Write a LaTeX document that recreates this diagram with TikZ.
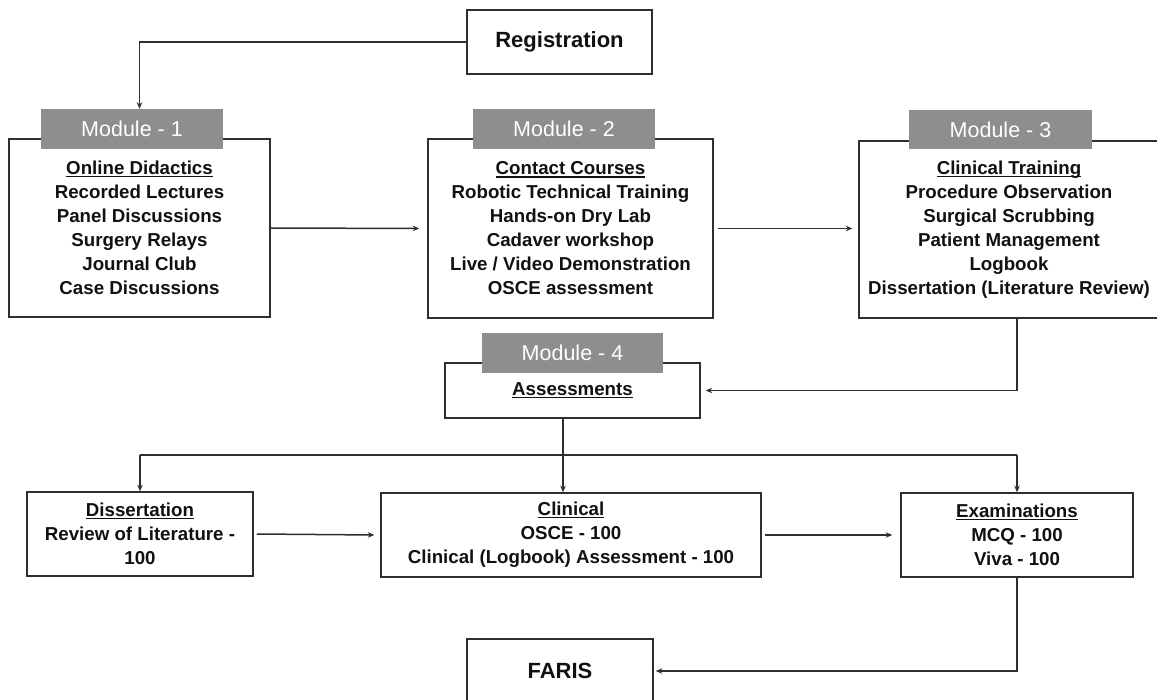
\documentclass[tikz,border=0pt]{standalone}
\usepackage{fontspec}
\setmainfont{Liberation Sans}
\usetikzlibrary{arrows.meta}
\definecolor{lin}{HTML}{2E2E2E}
\definecolor{tabg}{HTML}{8E8E8E}
\definecolor{txt}{HTML}{111111}
\newcommand{\hd}[1]{{\setbox0\hbox{#1}\rlap{\rule[-2.6pt]{\wd0}{1.1pt}}\box0}}
\begin{document}
\begin{tikzpicture}[x=1pt,y=-1pt,
  box/.style={draw=lin, line width=1.5pt, fill=white, inner sep=0pt, text=txt,
    font=\fontsize{18.7}{24}\selectfont\bfseries, align=center},
  bigbox/.style={box, font=\fontsize{22}{26}\selectfont\bfseries},
  tabbox/.style={fill=tabg, inner sep=0pt, text=white, font=\fontsize{21.5}{24}\selectfont},
  conn/.style={draw=lin, line width=1.5pt, -{Stealth[length=6.5pt,width=5.5pt]}},
  plain/.style={draw=lin, line width=1.5pt}]
\useasboundingbox (0,0) rectangle (1157,700);

\node[bigbox, minimum width=185pt, minimum height=64pt] (reg) at (559.5,42) {Registration};

\node[box, minimum width=261pt, minimum height=178pt] (m1) at (139.5,228)
  {\hd{Online Didactics}\\Recorded Lectures\\Panel Discussions\\Surgery Relays\\Journal Club\\Case Discussions};
\node[box, minimum width=285pt, minimum height=179pt] (m2) at (570.5,228.5)
  {\hd{Contact Courses}\\Robotic Technical Training\\Hands-on Dry Lab\\Cadaver workshop\\Live / Video Demonstration\\OSCE assessment};
\node[box, minimum width=300pt, minimum height=177pt] (m3) at (1009,229.5)
  {\hd{Clinical Training}\\Procedure Observation\\Surgical Scrubbing\\Patient Management\\Logbook\\Dissertation (Literature Review)};
\node[box, minimum width=255pt, minimum height=55pt] (m4) at (572.5,390.5) {\hd{Assessments}};

\node[tabbox, minimum width=182pt, minimum height=40pt] (t1) at (132,129) {Module - 1};
\node[tabbox, minimum width=182pt, minimum height=40pt] (t2) at (564,129) {Module - 2};
\node[tabbox, minimum width=183pt, minimum height=39pt] (t3) at (1000.5,129.5) {Module - 3};
\node[tabbox, minimum width=181pt, minimum height=40pt] (t4) at (572.5,353) {Module - 4};

\node[box, minimum width=226pt, minimum height=84pt] (diss) at (140,534)
  {\hd{Dissertation}\\Review of Literature -\\100};
\node[box, minimum width=380pt, minimum height=84pt] (clin) at (571,535)
  {\hd{Clinical}\\OSCE - 100\\Clinical (Logbook) Assessment - 100};
\node[box, minimum width=232pt, minimum height=84pt] (exam) at (1017,535)
  {\hd{Examinations}\\MCQ - 100\\Viva - 100};
\node[bigbox, minimum width=186pt, minimum height=64pt] (faris) at (560,671) {FARIS};

\coordinate (br) at (563,455);

% connectors
\draw[conn] (reg.west) -| (t1.north -| m1.north);
\draw[conn] (m1.east) -- ([xshift=-8pt]m2.west);
\draw[conn] ([xshift=4pt]m2.east) -- ([xshift=-6pt]m3.west |- m2.east);
\draw[conn] (exam.north |- m3.south) -- (exam.north |- m4.east) -- ([xshift=5pt]m4.east);
\draw[conn] (m4.south -| br) -- (clin.north -| br);
\draw[plain] (diss.north |- br) -- (exam.north |- br);
\draw[conn] (diss.north |- br) -- (diss.north);
\draw[conn] (exam.north |- br) -- (exam.north);
\draw[conn] ([xshift=3pt]diss.east) -- ([xshift=-6pt]clin.west);
\draw[conn] ([xshift=3pt]clin.east) -- ([xshift=-8pt]exam.west);
\draw[conn] (exam.south) -- (exam.south |- faris.east) -- ([xshift=2pt]faris.east);
\end{tikzpicture}
\end{document}
